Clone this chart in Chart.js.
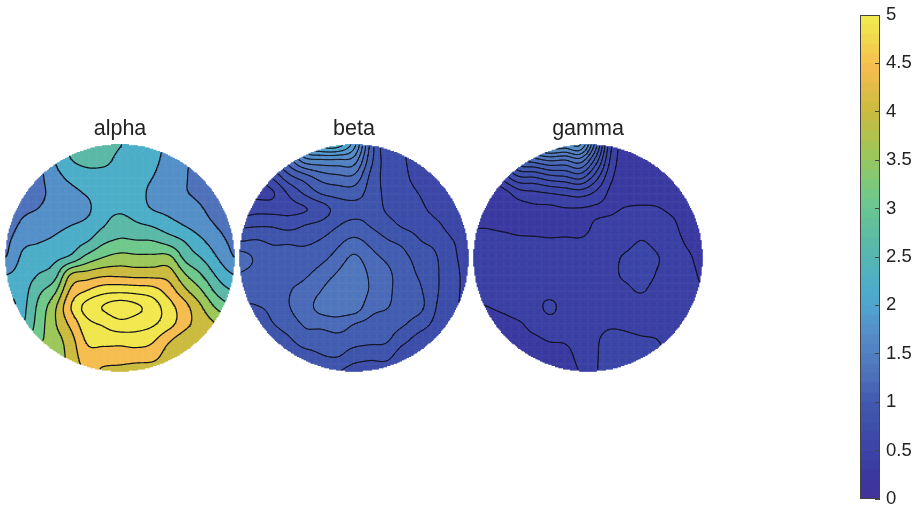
<!DOCTYPE html>
<html><head><meta charset="utf-8">
<script src="https://cdn.jsdelivr.net/npm/chart.js@4"></script>
<style>
html,body{margin:0;padding:0;background:#fff;width:918px;height:508px;overflow:hidden}
canvas{position:absolute;display:block}
</style></head><body>
<canvas id="alpha" style="left:4px;top:113px" width="232" height="260"></canvas>
<canvas id="beta" style="left:238px;top:113px" width="232" height="260"></canvas>
<canvas id="gamma" style="left:472px;top:113px" width="232" height="260"></canvas>
<canvas id="bar" style="left:860px;top:0" width="58" height="508"></canvas>
<script>
const alphaValues = [
[1.0,1.3,1.4,1.9,2.55,2.6,2.7,2.45,2.3,2.2,1.8,1.6,1.2,1.1,1.0],
[1.0,1.3,1.4,1.95,2.4,2.55,2.55,2.3,2.28,2.1,1.78,1.58,1.25,1.1,1.0],
[1.05,1.3,1.4,1.8,2.1,2.25,2.25,2.25,2.2,1.98,1.7,1.55,1.3,1.15,1.05],
[1.1,1.3,1.42,1.65,1.85,2.02,2.15,2.25,2.15,1.85,1.65,1.55,1.4,1.2,1.1],
[1.15,1.42,1.53,1.7,1.75,1.9,2.25,2.35,2.2,1.96,1.85,1.72,1.55,1.3,1.15],
[1.25,1.6,1.75,1.87,1.97,2.1,2.4,2.65,2.5,2.38,2.15,1.95,1.72,1.48,1.25],
[1.4,1.85,1.95,2.05,2.2,2.42,2.8,2.95,2.92,2.9,2.7,2.4,2.05,1.7,1.4],
[1.53,2.03,2.2,2.32,2.55,3.05,3.35,3.5,3.45,3.45,3.45,2.75,2.4,1.95,1.53],
[1.95,2.15,2.42,2.68,3.77,3.95,4.1,4.1,4.05,4.05,4.0,3.32,2.85,2.3,1.95],
[2.4,2.25,2.75,3.2,4.3,4.68,4.95,5.0,4.95,4.85,4.45,3.85,3.32,2.7,2.4],
[2.9,2.33,2.95,3.66,4.66,5.3,5.6,5.8,5.65,5.35,4.85,4.35,3.78,3.2,2.9],
[3.4,2.42,3.05,3.7,4.35,5.0,5.2,5.45,5.35,5.2,4.85,4.35,4.0,3.72,3.4],
[3.6,2.6,3.2,3.55,4.05,4.75,4.85,4.85,4.9,4.75,4.3,4.0,3.95,3.9,3.8],
[3.4,2.8,3.4,3.5,3.95,4.5,4.45,4.45,4.45,4.4,4.0,3.95,3.9,3.9,3.85],
[3.2,3.0,3.6,3.6,3.9,4.3,4.15,4.1,4.0,3.95,3.9,3.9,3.9,3.9,3.85]
];
const betaValues = [
[.45,.45,.9,1.2,2.0,2.2,2.2,1.85,1.1,.7,.66,.52,.5,.5,.5],
[.45,.45,.9,1.2,1.55,1.6,1.6,1.55,1.04,.74,.68,.55,.5,.5,.5],
[.45,.45,.68,.93,1.08,1.22,1.27,1.27,.95,.76,.7,.58,.52,.5,.5],
[.45,.45,.48,.68,.85,1.0,1.05,1.06,.92,.78,.73,.65,.55,.5,.5],
[.55,.6,.6,.62,.65,.74,.88,.93,.93,.8,.76,.7,.6,.52,.5],
[.78,.8,.8,.76,.82,.87,.97,1.03,.97,.88,.8,.76,.7,.58,.52],
[.98,1.0,.96,.96,.95,1.0,1.1,1.18,1.1,1.0,.94,.83,.78,.67,.55],
[1.22,1.12,1.03,1.03,1.05,1.1,1.2,1.33,1.2,1.11,1.02,.92,.83,.7,.58],
[1.13,1.08,1.05,1.1,1.12,1.2,1.32,1.43,1.27,1.18,1.05,.96,.84,.72,.6],
[1.03,1.03,1.06,1.13,1.18,1.3,1.41,1.44,1.28,1.18,1.06,1.0,.84,.72,.6],
[.96,.97,1.02,1.13,1.22,1.36,1.38,1.4,1.2,1.15,1.05,1.02,.82,.7,.6],
[.85,.85,.97,1.07,1.16,1.2,1.24,1.15,1.1,1.05,1.0,.9,.78,.68,.6],
[.7,.75,.85,.95,1.07,1.05,1.08,1.05,1.03,1.0,.87,.76,.72,.66,.6],
[.65,.7,.75,.82,.9,.97,.99,.9,.86,.87,.72,.7,.66,.62,.6],
[.6,.65,.65,.7,.75,.8,.82,.75,.75,.72,.65,.65,.62,.6,.6]
];
const gammaValues = [
[.25,.25,.9,1.2,1.7,1.8,1.75,1.8,1.2,.5,.28,.27,.26,.25,.25,.25],
[.25,.25,.75,1.1,1.2,1.28,1.26,1.33,.95,.45,.27,.27,.26,.25,.25,.25],
[.25,.25,.55,.74,.76,.84,.87,.93,.68,.38,.27,.27,.26,.25,.25,.25],
[.25,.25,.3,.43,.46,.49,.52,.55,.46,.32,.28,.28,.28,.25,.25,.25],
[.28,.28,.26,.29,.32,.32,.34,.34,.33,.33,.36,.37,.36,.32,.26,.26],
[.34,.34,.32,.3,.29,.28,.27,.29,.37,.39,.41,.42,.4,.38,.28,.28],
[.38,.38,.39,.38,.38,.37,.38,.37,.4,.42,.44,.485,.44,.41,.33,.3],
[.4,.41,.42,.42,.42,.41,.41,.42,.42,.45,.5,.55,.49,.42,.37,.31],
[.4,.42,.44,.44,.44,.44,.43,.44,.43,.46,.5,.55,.47,.42,.39,.33],
[.38,.39,.43,.45,.46,.41,.44,.45,.44,.46,.46,.49,.43,.42,.41,.35],
[.34,.35,.38,.42,.41,.52,.41,.45,.45,.46,.44,.43,.42,.41,.42,.38],
[.3,.3,.31,.34,.39,.41,.43,.44,.46,.47,.46,.44,.43,.41,.42,.4],
[.26,.27,.28,.3,.33,.36,.37,.42,.47,.5,.5,.49,.48,.44,.42,.4],
[.25,.25,.25,.27,.28,.29,.3,.4,.47,.52,.53,.52,.5,.45,.42,.4],
[.25,.25,.25,.25,.25,.26,.28,.36,.47,.52,.53,.52,.5,.45,.42,.4]
];
const alphaLevels = [1.525,1.975,2.425,2.875,3.325,3.775,4.225,4.675,5.125,5.575];
const betaLevels = [.5,.66,.82,.98,1.14,1.3,1.46,1.62,1.78,1.94,2.1];
const gammaLevels = [.35,.48,.61,.74,.87,1,1.13,1.26,1.39,1.52,1.65,1.78];
const headTitles = ['alpha','beta','gamma'];
const colorStops = [0,.25,.5,1,1.3,1.75,2,2.2,2.65,3.1,3.55,4,4.45,4.9,5];
const colorHex = ['#42309b','#3b38a0','#3b44a6','#4059ae','#4f72bb','#5590c8','#50a4d0','#4daec8','#5bb9a7','#6fc98b','#9cc75a','#cbbb3f','#f5bd4f','#f0e64d','#f2e84f'];
const tickLabels = ['0','0.5','1','1.5','2','2.5','3','3.5','4','4.5','5'];
const barStep = 0.1;

const TEXT = '#222';
const FONT = '"Liberation Sans", Arial, sans-serif';
function rgb(h){return [1,3,5].map(i=>parseInt(h.substr(i,2),16));}
function cmap(v){
  v=Math.max(0,Math.min(5,v));
  let i=0; while(i<colorStops.length-2 && v>colorStops[i+1]) i++;
  const t=(v-colorStops[i])/(colorStops[i+1]-colorStops[i]), a=rgb(colorHex[i]), b=rgb(colorHex[i+1]);
  return 'rgb('+a.map((c,k)=>Math.round(c+(b[k]-c)*t)).join(',')+')';
}
function cr(a,b,c,d,t){return b+.5*t*(c-a+t*(2*a-5*b+4*c-d+t*(3*(b-c)+d-a)));}
function sampler(g){
  const ny=g.length,nx=g[0].length;
  const at=(j,i)=>g[Math.max(0,Math.min(ny-1,j))][Math.max(0,Math.min(nx-1,i))];
  return (x,y)=>{
    const fx=(x+1)/2*(nx-1), fy=(1-y)/2*(ny-1);
    const i=Math.max(0,Math.min(nx-2,Math.floor(fx))), j=Math.max(0,Math.min(ny-2,Math.floor(fy)));
    const u=fx-i,v=fy-j,r=[];
    for(let q=-1;q<=2;q++) r.push(cr(at(j+q,i-1),at(j+q,i),at(j+q,i+1),at(j+q,i+2),u));
    return cr(r[0],r[1],r[2],r[3],v);
  };
}
function contourData(f,levels,n){
  const h=2/n,out=[];
  const vals=[];
  for(let j=0;j<=n;j++){const r=[];for(let i=0;i<=n;i++)r.push(f(-1+i*h,-1+j*h));vals.push(r);}
  levels.forEach(L=>{
    for(let j=0;j<n;j++)for(let i=0;i<n;i++){
      const x=-1+i*h,y=-1+j*h;
      const a=vals[j][i],b=vals[j][i+1],c=vals[j+1][i+1],d=vals[j+1][i];
      const pts=[];
      if((a<L)!==(b<L))pts.push({x:x+h*(L-a)/(b-a),y});
      if((b<L)!==(c<L))pts.push({x:x+h,y:y+h*(L-b)/(c-b)});
      if((d<L)!==(c<L))pts.push({x:x+h*(L-d)/(c-d),y:y+h});
      if((a<L)!==(d<L))pts.push({x,y:y+h*(L-a)/(d-a)});
      for(let k=0;k+1<pts.length;k+=2){
        const p=pts[k],q=pts[k+1];
        if(p.x*p.x+p.y*p.y<=0.985&&q.x*q.x+q.y*q.y<=0.985) out.push(p,q,{x:null,y:null});
      }
    }
  });
  return out;
}
function bandData(f,levels,n){
  const bands=levels.concat([Infinity]).map(()=>[]);
  const h=2/n;
  for(let j=0;j<=n;j++)for(let i=0;i<=n;i++){
    const x=-1+i*h,y=-1+j*h;
    if(x*x+y*y>0.985)continue;
    const v=f(x,y);let k=0;
    while(k<levels.length&&v>=levels[k])k++;
    bands[k].push({x,y});
  }
  return bands;
}
function bandColor(levels,k){
  const st=levels[1]-levels[0];
  const lo=k===0?levels[0]-st:levels[k-1];
  return cmap(lo+st/2);
}
function head(id,title,values,levels,lw){
  const f=sampler(values);
  const bands=bandData(f,levels,200);
  const datasets=[{data:contourData(f,levels,200),showLine:true,borderColor:'#101018',borderWidth:lw,borderCapStyle:'round',pointRadius:0,spanGaps:false,order:0}];
  bands.forEach((d,k)=>{
    datasets.push({data:d,showLine:false,pointStyle:'rect',pointRadius:1.2,pointBorderWidth:0,pointBackgroundColor:bandColor(levels,k),order:1});
  });
  const lim=116/115;
  new Chart(document.getElementById(id),{
    type:'scatter',
    data:{datasets},
    options:{responsive:false,animation:false,devicePixelRatio:1,events:[],
      layout:{padding:0,autoPadding:false},
      plugins:{legend:{display:false},tooltip:{enabled:false},
        title:{display:true,text:title,color:TEXT,font:{family:FONT,size:21.5,weight:'normal'},padding:{top:3,bottom:1}}},
      scales:{x:{type:'linear',min:-lim,max:lim,bounds:'data',display:false},y:{type:'linear',min:-lim,max:lim,bounds:'data',display:false}}
    }
  });
}
head('alpha',headTitles[0],alphaValues,alphaLevels,1.2);
head('beta',headTitles[1],betaValues,betaLevels,0.85);
head('gamma',headTitles[2],gammaValues,gammaLevels,0.85);

const barSets=[];
for(let k=0;k<Math.round(5/barStep);k++){
  barSets.push({data:[barStep],backgroundColor:cmap((k+.5)*barStep),borderWidth:0,barPercentage:1,categoryPercentage:1,stack:'s'});
}
new Chart(document.getElementById('bar'),{
  type:'bar',
  data:{labels:['c'],datasets:barSets},
  options:{responsive:false,animation:false,devicePixelRatio:1,events:[],
    layout:{padding:{top:15,bottom:9,left:0,right:0},autoPadding:false},
    plugins:{legend:{display:false},tooltip:{enabled:false},title:{display:false}},
    scales:{
      x:{display:false,stacked:true},
      y:{position:'right',stacked:true,min:0,max:5,afterFit(s){s.width=38;s.paddingTop=0;s.paddingBottom=0;},
        border:{display:false},
        grid:{drawOnChartArea:false,drawTicks:true,tickLength:-5,color:'#444',z:1},
        ticks:{stepSize:.5,padding:11,color:TEXT,font:{family:FONT,size:18.5},autoSkip:false,maxRotation:0,
          callback:(v,i)=>tickLabels[i]}}
    }
  },
  plugins:[{id:'frame',afterDraw(c){const a=c.chartArea,x=c.ctx;x.save();x.strokeStyle='#444';x.lineWidth=1;x.strokeRect(a.left+.5,a.top+.5,a.width-1,a.height-1);x.restore();}}]
});
</script>
</body></html>
